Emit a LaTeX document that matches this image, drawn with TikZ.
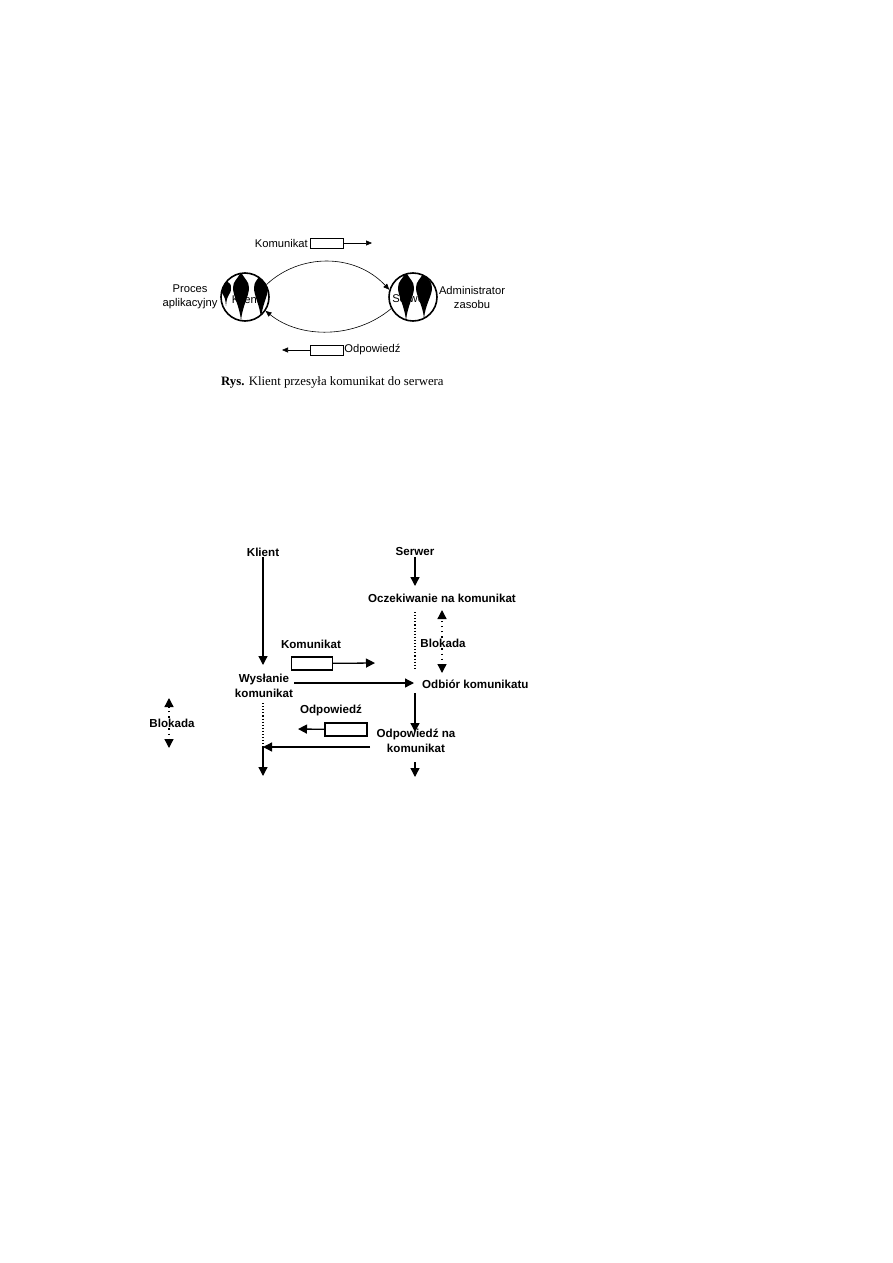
\documentclass[tikz,border=0pt]{standalone}
\usepackage{fontspec}
\setmainfont{Liberation Sans}
\newfontfamily\capfont{Liberation Serif}
\usetikzlibrary{arrows.meta}
\tikzset{
  smallarr/.style={-{Triangle[length=6pt,width=5pt]}, line width=0.6pt},
  bigarr/.style={-{Triangle[length=9pt,width=9pt]}, line width=1.3pt},
  msgbox/.style={draw, rectangle, inner sep=0pt},
  proc/.style={draw, circle, minimum size=48pt, inner sep=0pt, line width=1.6pt},
  txt/.style={font=\fontsize{11.2}{14}\selectfont, align=center, inner sep=1pt},
  btxt/.style={font=\fontsize{11.6}{15.5}\selectfont\bfseries, align=center, inner sep=1pt},
  dotline/.style={dotted, line width=1.1pt},
  sparsedots/.style={dash pattern=on 1.1pt off 4pt, line width=1.1pt},
}
\begin{document}
\begin{tikzpicture}[x=1pt,y=-1pt]
\useasboundingbox (0,0) rectangle (893,1263);
\fill[white] (0,0) rectangle (893,1263);
% gora
\node[txt, anchor=east] (kom) at (309,243) {Komunikat};
\node[msgbox, minimum width=33pt, minimum height=10pt] (kbox) at (326.5,243) {};
\coordinate (kend) at (372,243);
\draw[smallarr] (kbox) -- (kend);
\node[txt] (klientTxt) at (246,299) {Klient};
\node[txt] (serwerTxt) at (410,299) {Serwer};
\begin{scope}
\clip (245,297) circle (24);
\foreach \sx/\st/\sb/\sw in {241/272/321/8, 261/273/319/7, 226/278/306/5}
  \fill (\sx,\st) .. controls (\sx+0.5*\sw,\st+8) and (\sx+\sw,281) .. (\sx+\sw,288)
    .. controls (\sx+\sw,296) and (\sx+1,\sb-14) .. (\sx,\sb)
    .. controls (\sx-1,\sb-14) and (\sx-\sw,296) .. (\sx-\sw,288)
    .. controls (\sx-\sw,281) and (\sx-0.5*\sw,\st+8) .. cycle;
\end{scope}
\begin{scope}
\clip (413,297) circle (24);
\foreach \sx/\st/\sb/\sw in {406/272/321/8, 424/272/319/8}
  \fill (\sx,\st) .. controls (\sx+0.5*\sw,\st+8) and (\sx+\sw,281) .. (\sx+\sw,288)
    .. controls (\sx+\sw,296) and (\sx+1,\sb-14) .. (\sx,\sb)
    .. controls (\sx-1,\sb-14) and (\sx-\sw,296) .. (\sx-\sw,288)
    .. controls (\sx-\sw,281) and (\sx-0.5*\sw,\st+8) .. cycle;
\end{scope}
\node[proc] (klient) at (245,297) {};
\node[proc] (serwer) at (413,297) {};
\draw[smallarr] (klient.30) .. controls (300,253) and (355,253) .. (serwer.163);
\draw[smallarr] (serwer.208) .. controls (355,339) and (300,339) .. (klient.326);
\node[txt] (proces) at (190,297) {Proces\\aplikacyjny};
\node[txt] (admin) at (472,297) {Administrator\\zasobu};
\node[msgbox, minimum width=33pt, minimum height=10pt] (obox) at (326.5,350) {};
\node[txt, anchor=west] (odp) at (obox.east) {Odpowiedź};
\coordinate (oend) at (282,350);
\draw[smallarr] (obox) -- (oend);
\node[font=\capfont\fontsize{12.8}{14}\selectfont, anchor=base west, inner sep=0pt] (rys)
  at (221,385) {\textbf{Rys.} Klient przesyła komunikat do serwera};
% dol
\node[btxt] (klientB) at (263,552) {Klient};
\node[btxt] (serwerB) at (415,552) {Serwer};
\node[btxt] (oczek) at (442,598) {Oczekiwanie na komunikat};
\node[btxt] (wysl) at (264,686) {Wysłanie\\komunikat};
\node[btxt, anchor=west] (odbior) at (421,684) {Odbiór komunikatu};
\node[btxt] (odpNa) at (416,741) {Odpowiedź na\\komunikat};
\node[btxt] (komB) at (311,644) {Komunikat};
\node[msgbox, minimum width=41pt, minimum height=13pt, line width=1.2pt] (kboxB) at (312,663.5) {};
\node[btxt] (odpB) at (331,710) {Odpowiedź};
\node[msgbox, minimum width=42pt, minimum height=13pt, line width=1.2pt] (oboxB) at (346,729.5) {};
\node[btxt] (blokR) at (443,643) {Blokada};
\node[btxt] (blokL) at (172,723) {Blokada};
\coordinate (kTip) at (263,665);
\coordinate (sTip) at (415,586);
\coordinate (hTip) at (414,683);
\coordinate (sd1) at (415,612);
\coordinate (sd2) at (415,670);
\coordinate (oTop) at (415,693);
\coordinate (oTip) at (415,732);
\coordinate (kd1) at (263,703);
\coordinate (kd2) at (263,747);
\coordinate (kEnd) at (263,776);
\coordinate (bStart) at (370,747);
\coordinate (sEnd1) at (415,762);
\coordinate (sEnd2) at (415,777);
\coordinate (kbTip) at (375,663);
\coordinate (obTip) at (298,729);
\coordinate (brUp) at (442,610);
\coordinate (brDown) at (442,673);
\coordinate (blUp) at (169,698);
\coordinate (blDown) at (169,748);
\draw[bigarr] (klientB.south) -- (kTip);
\draw[bigarr] (serwerB.south) -- (sTip);
\draw[bigarr] (wysl.east |- hTip) -- (hTip);
\draw[dotline] (sd1) -- (sd2);
\draw[bigarr] (oTop) -- (oTip);
\draw[dotline] (kd1) -- (kd2);
\draw[bigarr] (kd2) -- (kEnd);
\draw[bigarr] (bStart) -- (kd2);
\draw[bigarr] (sEnd1) -- (sEnd2);
\draw[bigarr] (kboxB) -- (kbTip);
\draw[bigarr] (oboxB) -- (obTip);
\draw[sparsedots, bigarr] (blokR.north -| brUp) -- (brUp);
\draw[sparsedots, bigarr] (blokR.south -| brDown) -- (brDown);
\draw[sparsedots, bigarr] (blokL.north -| blUp) -- (blUp);
\draw[sparsedots, bigarr] (blokL.south -| blDown) -- (blDown);
\end{tikzpicture}
\end{document}
